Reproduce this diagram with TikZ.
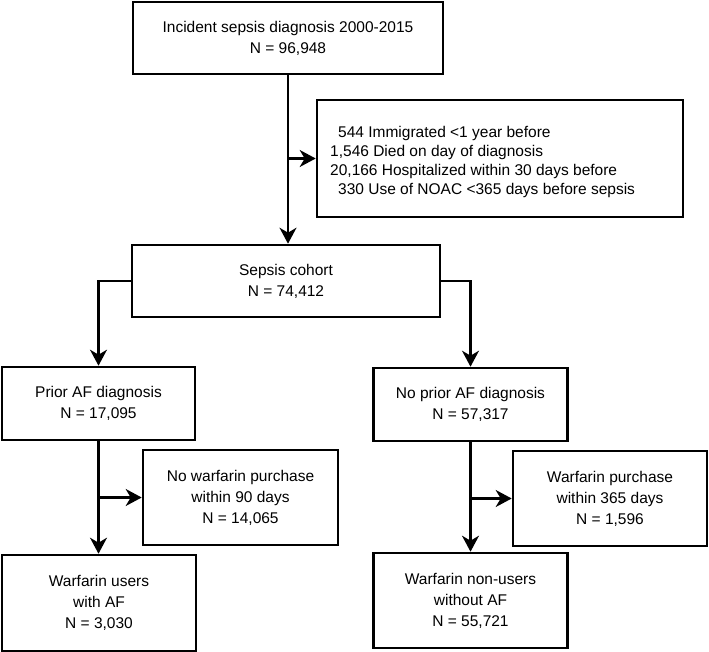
\documentclass[tikz,border=0pt]{standalone}
\usepackage{fontspec}
\setmainfont{Liberation Sans}
\usetikzlibrary{arrows.meta}
\begin{document}
\begin{tikzpicture}[x=1pt,y=-1pt,
  box/.style={draw, line width=2.6pt, rectangle, align=center, inner sep=0pt,
    font=\fontsize{15.5}{21}\selectfont},
  conn/.style={line width=2.4pt},
  arr/.style={conn, -{Stealth[length=16pt,width=17pt,inset=5pt]}},
  txt/.style={anchor=west, inner sep=0pt, font=\fontsize{15.5}{19}\selectfont}]
\useasboundingbox (0,0) rectangle (709,652);
\fill[white] (0,0) rectangle (709,652);
\node[box, minimum width=310pt, minimum height=72pt] (top) at (288,38)
  {Incident sepsis diagnosis 2000-2015\\N = 96,948};
\node[box, minimum width=366pt, minimum height=117pt] (excl) at (500,158.5) {};
\node[txt] (e1) at (338,133) {544 Immigrated <1 year before};
\node[txt] (e2) at (330,152) {1,546 Died on day of diagnosis};
\node[txt] (e3) at (330,171) {20,166 Hospitalized within 30 days before};
\node[txt] (e4) at (338,190) {330 Use of NOAC <365 days before sepsis};
\node[box, minimum width=308pt, minimum height=72pt] (sepsis) at (286,281)
  {Sepsis cohort\\N = 74,412};
\node[box, minimum width=193pt, minimum height=73pt] (prior) at (98.5,403.5)
  {Prior AF diagnosis\\N = 17,095};
\node[box, minimum width=194pt, minimum height=73pt] (noprior) at (470.5,404.5)
  {No prior AF diagnosis\\N = 57,317};
\node[box, minimum width=195pt, minimum height=95pt] (nowarf) at (240.5,497.5)
  {No warfarin purchase\\within 90 days\\N = 14,065};
\node[box, minimum width=194pt, minimum height=95pt] (warfp) at (610,498.5)
  {Warfarin purchase\\within 365 days\\N = 1,596};
\node[box, minimum width=194pt, minimum height=96pt] (wuser) at (99,603)
  {Warfarin users\\with AF\\N = 3,030};
\node[box, minimum width=194pt, minimum height=95pt] (wnon) at (470.5,600.5)
  {Warfarin non-users\\without AF\\N = 55,721};
% connectors
\draw[arr] (top.south) -- (top.south |- sepsis.north);
\draw[arr] (top.south |- excl.west) -- (excl.west);
\draw[arr] (sepsis.west) -| (prior.north);
\draw[arr] (sepsis.east) -| (noprior.north);
\draw[arr] (prior.south) -- (prior.south |- wuser.north);
\draw[arr] (prior.south |- nowarf.west) -- (nowarf.west);
\draw[arr] (noprior.south) -- (noprior.south |- wnon.north);
\draw[arr] (noprior.south |- warfp.west) -- (warfp.west);
\end{tikzpicture}
\end{document}
